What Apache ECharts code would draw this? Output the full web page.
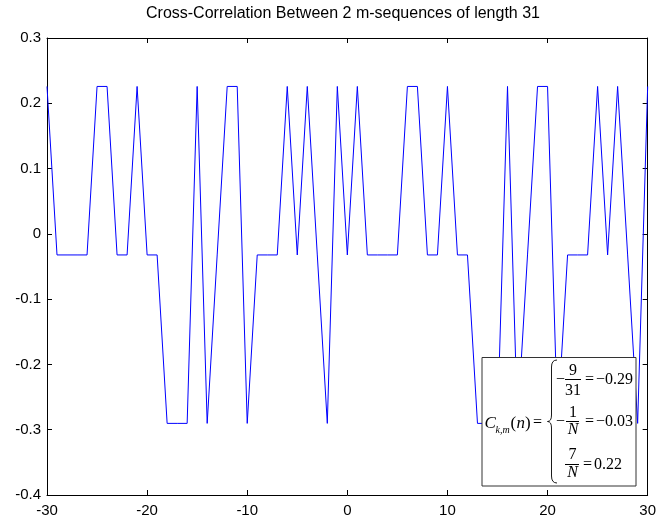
<!DOCTYPE html>
<html>
<head>
<meta charset="utf-8">
<script src="https://cdn.jsdelivr.net/npm/echarts@6/dist/echarts.min.js"></script>
<style>html,body{margin:0;padding:0;background:#fff}#c{width:659px;height:525px}</style>
</head>
<body>
<div id="c"></div>
<script>
// Lag n
var lags = [-30,-29,-28,-27,-26,-25,-24,-23,-22,-21,-20,-19,-18,-17,-16,-15,-14,-13,-12,-11,-10,
            -9,-8,-7,-6,-5,-4,-3,-2,-1,0,1,2,3,4,5,6,7,8,9,10,
            11,12,13,14,15,16,17,18,19,20,21,22,23,24,25,26,27,28,29,30];
// Cross-correlation values C(n)
var corr = [0.2258,-0.0323,-0.0323,-0.0323,-0.0323,0.2258,0.2258,-0.0323,-0.0323,0.2258,-0.0323,
            -0.0323,-0.2903,-0.2903,-0.2903,0.2258,-0.2903,-0.0323,0.2258,0.2258,-0.2903,
            -0.0323,-0.0323,-0.0323,0.2258,-0.0323,0.2258,-0.0323,-0.2903,0.2258,-0.0323,
            0.2258,-0.0323,-0.0323,-0.0323,-0.0323,0.2258,0.2258,-0.0323,-0.0323,0.2258,
            -0.0323,-0.0323,-0.2903,-0.2903,-0.2903,0.2258,-0.2903,-0.0323,0.2258,0.2258,
            -0.2903,-0.0323,-0.0323,-0.0323,0.2258,-0.0323,0.2258,-0.0323,-0.2903,0.2258];
var xTicks = [-30,-20,-10,0,10,20,30];
var yTicks = [-0.4,-0.3,-0.2,-0.1,0,0.1,0.2,0.3];
var titleText = 'Cross-Correlation Between 2 m-sequences of length 31';

var chart = echarts.init(document.getElementById('c'), null, {renderer:'canvas'});
var sans = 'Liberation Sans, Arial, Helvetica, sans-serif';
var serif = 'Liberation Serif, Times New Roman, serif';
var data = lags.map(function(n,i){return [n, corr[i]];});

function axisBase(extra){
  var o = {
    type:'value',
    axisLine:{show:true,onZero:false,lineStyle:{color:'#000',width:1}},
    axisTick:{show:true,inside:true,length:5,lineStyle:{color:'#000',width:1}},
    splitLine:{show:false}
  };
  for (var k in extra) o[k]=extra[k];
  return o;
}
function yFmt(v){ var r=Math.round(v*10)/10; return r===0?'0':r.toFixed(1); }

var box = {x:482, y:357.5, w:154, h:128.5};
var gz = 100;
function txt(x,y,s,size,style,align){
  return {type:'text', z:gz, x:x, y:y, style:{text:s, fill:'#000', font:(style||'')+' '+size+'px '+serif, textAlign:align||'left', textVerticalAlign:'middle'}};
}
function bar(x1,x2,y){
  return {type:'line', z:gz, shape:{x1:x1,y1:y,x2:x2,y2:y}, style:{stroke:'#000', lineWidth:1}};
}
function ln(x1,y1,x2,y2){
  return {type:'line', z:gz, shape:{x1:x1,y1:y1,x2:x2,y2:y2}, style:{stroke:'#000', lineWidth:0.9}};
}
function qc(x1,y1,cx,cy,x2,y2){
  return {type:'bezierCurve', z:gz, shape:{x1:x1,y1:y1,cpx1:cx,cpy1:cy,x2:x2,y2:y2}, style:{stroke:'#000', fill:null, lineWidth:0.9}};
}

var graphics = [
  {type:'rect', z:gz, shape:{x:box.x, y:box.y, width:box.w, height:box.h}, style:{fill:'#fff', stroke:'#333', lineWidth:1}},
  txt(484.5, 424, 'C', 17, 'italic'),
  txt(495.5, 430, 'k,m', 10, 'italic'),
  txt(510.5, 424, '(', 17, ''),
  txt(516.5, 424, 'n', 17, 'italic'),
  txt(525, 424, ')', 17, ''),
  txt(533, 423, '=', 16, ''),
  // brace
  qc(557,360, 551.5,360, 551.5,367),
  ln(551.5,367, 551.5,415),
  qc(551.5,415, 551.5,421.5, 547.5,421.5),
  qc(547.5,421.5, 551.5,421.5, 551.5,428),
  ln(551.5,428, 551.5,476),
  qc(551.5,476, 551.5,483, 557,483),
  // row 1
  txt(556, 380, '\u2212', 16, ''),
  txt(573, 370.5, '9', 16, '', 'center'),
  bar(565, 581, 379.5),
  txt(573, 390.5, '31', 16, '', 'center'),
  txt(585, 380, '=', 16, ''),
  txt(596, 380, '\u22120.29', 16, ''),
  // row 2
  txt(556, 421.5, '\u2212', 16, ''),
  txt(573, 412.5, '1', 16, '', 'center'),
  bar(566, 579, 421.5),
  txt(573, 429.5, 'N', 16, 'italic', 'center'),
  txt(585, 421.5, '=', 16, ''),
  txt(596, 421.5, '\u22120.03', 16, ''),
  // row 3
  txt(572.5, 455, '7', 16, '', 'center'),
  bar(565, 579, 464.5),
  txt(572.5, 472.5, 'N', 16, 'italic', 'center'),
  txt(583, 464.5, '=', 16, ''),
  txt(594, 464.5, '0.22', 16, '')
];

chart.setOption({
  animation:false,
  backgroundColor:'#fff',
  title:{text:titleText, left:343, top:6, textAlign:'center', padding:0,
         textStyle:{fontSize:16, fontWeight:'normal', color:'#000', fontFamily:sans}},
  grid:{left:47, right:11, top:38, bottom:30, containLabel:false},
  xAxis:[
    axisBase({position:'bottom', min:-30, max:30, interval:10,
      axisLabel:{show:true, margin:8, color:'#000', fontSize:15, fontFamily:sans,
        formatter:function(v){return xTicks.indexOf(v)>=0?String(v):'';}}}),
    axisBase({position:'top', min:-30, max:30, interval:10, axisLabel:{show:false}})
  ],
  yAxis:[
    axisBase({position:'left', min:-0.4, max:0.3, interval:0.1,
      axisLabel:{show:true, margin:6, color:'#000', fontSize:15, fontFamily:sans, formatter:yFmt}}),
    axisBase({position:'right', min:-0.4, max:0.3, interval:0.1, axisLabel:{show:false}})
  ],
  series:[{
    type:'line', data:data, xAxisIndex:0, yAxisIndex:0,
    showSymbol:false, symbol:'none', smooth:false,
    lineStyle:{color:'#0000ff', width:1}, itemStyle:{color:'#0000ff'}, z:2
  }],
  graphic: graphics
});
</script>
</body>
</html>
